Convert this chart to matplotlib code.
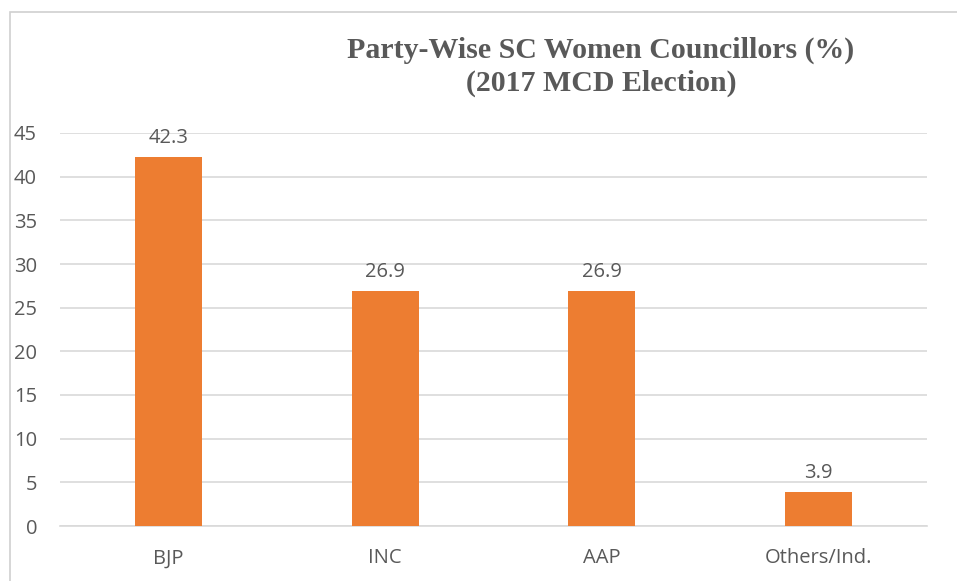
import matplotlib.pyplot as plt
from matplotlib.patches import Rectangle

# Daten
parties = ['BJP', 'INC', 'AAP', 'Others/Ind.']
percent = [42.3, 26.9, 26.9, 3.9]
yticks = [0, 5, 10, 15, 20, 25, 30, 35, 40, 45]

text_col = '#595959'
bar_col = '#ED7D31'
grid_col = '#D9D9D9'

fig = plt.figure(figsize=(9.57, 5.81), dpi=100)
ax = fig.add_axes([60 / 957, 1 - 526 / 581, 867 / 957, 393 / 581])

# Rahmen um das Diagramm
fig.patches.append(Rectangle((10 / 957, -0.1), 1.2, 1 - 12 / 581 + 0.1,
                             transform=fig.transFigure, fill=False,
                             edgecolor='#D0D0D0', linewidth=1.2))

x = range(len(parties))
bars = ax.bar(x, percent, width=0.31, color=bar_col, zorder=3)

for xi, v in zip(x, percent):
    ax.text(xi, v + 1.0, f'{v:.1f}', ha='center', va='bottom',
            fontsize=14.5, color=text_col, family='Open Sans')

ax.set_xlim(-0.5, len(parties) - 0.5)
ax.set_ylim(0, 45)
ax.set_yticks(yticks)
ax.set_xticks(list(x))
ax.set_xticklabels(parties)
ax.yaxis.grid(True, color=grid_col, linewidth=1.2, zorder=0)
ax.set_axisbelow(True)

for s in ['top', 'right', 'left']:
    ax.spines[s].set_visible(False)
ax.spines['bottom'].set_color(grid_col)
ax.spines['bottom'].set_linewidth(1.2)

ax.tick_params(axis='both', length=0, labelsize=14.5, labelcolor=text_col)
ax.tick_params(axis='y', pad=16.5)
ax.tick_params(axis='x', pad=16)
for lab in ax.get_xticklabels() + ax.get_yticklabels():
    lab.set_family('Open Sans')

fig.text(601 / 957, 1 - 67 / 581,
         'Party-Wise SC Women Councillors (%)\n(2017 MCD Election)',
         ha='center', va='center', fontsize=21.5, fontweight='bold',
         color=text_col, family='Liberation Serif', linespacing=1.25)

fig.savefig('out.png', dpi=100)
